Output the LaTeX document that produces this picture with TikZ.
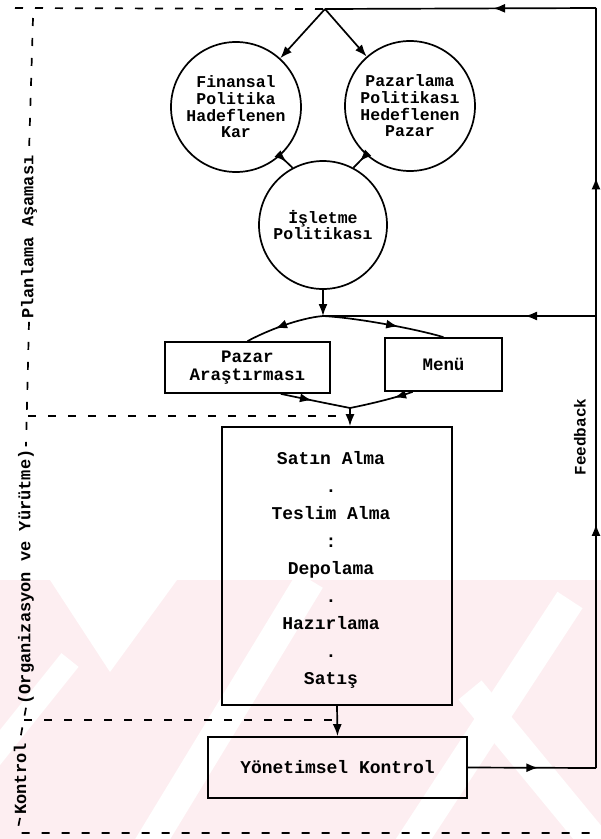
\documentclass[tikz,border=0pt]{standalone}
\usepackage{fontspec}
\setmonofont{Liberation Mono}
\usetikzlibrary{arrows.meta,decorations.markings,calc}

\definecolor{wm}{RGB}{253,238,241}

\newcommand\bubblefont{\ttfamily\bfseries\fontsize{16.5}{16.7}\selectfont}
\newcommand\boxfont{\ttfamily\bfseries\fontsize{17.5}{18}\selectfont}
\newcommand\stepfont{\ttfamily\bfseries\fontsize{18}{27.5}\selectfont}
\newcommand\phasefont{\ttfamily\bfseries\fontsize{17}{18}\selectfont}

\tikzset{
  ink/.style={line width=1.7pt, draw=black},
  frame/.style={line width=1.7pt, draw=black, dash pattern=on 8pt off 12pt},
  bubble/.style={ink, circle, minimum size=130pt, inner sep=0pt, align=center, font=\bubblefont},
  panel/.style={ink, rectangle, inner sep=0pt, align=center, font=\boxfont},
  tip/.style={-{Latex[length=12pt,width=9pt]}},
  midtip/.style={postaction={decorate}, decoration={markings,
      mark=at position #1 with {\arrow{Latex[length=12pt,width=9pt]}}}},
  phase/.style={rotate=90, font=\phasefont, inner sep=3pt},
}

\begin{document}
\begin{tikzpicture}[x=1pt,y=-1pt]
\useasboundingbox (0,0) rectangle (601,839);
\fill[white] (0,0) rectangle (601,839);

% faint striped band along the lower part of the sheet
\begin{scope}
  \clip (0,580) rectangle (601,839);
  \fill[wm] (0,580) rectangle (601,839);
  \fill[white] (50,580) -- (177,580) -- (110,672) -- cycle;
  \draw[white, line width=30pt] (140,860) -- (310,580);
  \draw[white, line width=30pt] (400,860) -- (570,600);
  \draw[white, line width=30pt] (470,690) -- (610,860);
  \draw[white, line width=22pt] (-10,760) -- (70,660);
\end{scope}

% policy bubbles
\node[bubble] (fin) at (236,107) {Finansal\\Politika\\Hadeflenen\\Kar};
\node[bubble] (paz) at (410,106) {Pazarlama\\Politikası\\Hedeflenen\\Pazar};
\node[bubble, minimum size=128pt] (isl) at (323,225) {İşletme\\Politikası};

% boxes
\node[panel, minimum width=165pt, minimum height=51pt] (pzr) at (247.5,367.5) {Pazar\\Araştırması};
\node[panel, minimum width=117pt, minimum height=53pt] (mnu) at (443.5,364.5) {Menü};
\node[panel, minimum width=230pt, minimum height=278pt] (ops) at (337,566) {};
\node[font=\stepfont, align=center] (steps) at (331,570)
  {Satın Alma\\.\\Teslim Alma\\:\\Depolama\\.\\Hazırlama\\.\\Satış};
\node[panel, font=\stepfont, minimum width=259pt, minimum height=61pt] (yk) at (337.5,767.5) {Yönetimsel Kontrol};

% junctions and corners
\coordinate (j0) at (325,9);
\coordinate (j1) at (323,316);
\coordinate (j2) at (350,408);
\coordinate (fbR) at (596,768);
\coordinate (fbM) at (596,316);
\coordinate (fbT) at (596,8);
\coordinate (tl) at (15,8);
\coordinate (lt) at (33,18);
\coordinate (lb) at (17,833);
\coordinate (br) at (601,833);
\coordinate (m1) at (28,416);
\coordinate (m2) at (24,720);

% phase labels
\node[phase] (plan) at (29,237) {Planlama Aşaması};
\node[phase] (org) at (26,577) {(Organizasyon ve Yürütme)};
\node[phase] (ctl) at (20,779) {Kontrol};
\node[phase, font=\ttfamily\bfseries\fontsize{16}{17}\selectfont] (fb) at (580,437) {Feedback};

% phase boundaries
\draw[frame] (tl) -- (j0);
\draw[frame] (lt) -- (plan.east);
\draw[frame] (plan.west) -- (org.east);
\draw[frame] (org.west) -- (ctl.east);
\draw[frame] (ctl.west) -- (lb) -- (br);
\draw[frame] (m1) -- (m1 -| j2);
\draw[frame] (m2) -- (m2 -| ops.south);

% planning flow
\draw[ink, tip] (j0) -- (fin);
\draw[ink, tip] (j0) -- (paz);
\draw[ink, midtip=0.5] (fin.-48) -- (isl.118);
\draw[ink, midtip=0.5] (paz.-132) -- (isl.62);
\draw[ink, tip] (isl.south) -- (j1);
\draw[ink, midtip=0.62] (j1) .. controls (300,318) and (268,330) .. (pzr.north);
\draw[ink, midtip=0.62] (j1) .. controls (360,318) and (420,330) .. (mnu.north);
\draw[ink, midtip=0.45] ($(pzr.south west)!0.7!(pzr.south east)$) .. controls (300,398) and (330,404) .. (j2);
\draw[ink, midtip=0.3] ($(mnu.south west)!0.24!(mnu.south east)$) .. controls (395,398) and (370,404) .. (j2);
\draw[ink, tip] (j2) -- (j2 |- ops.north);
\draw[ink, tip] (ops.south) -- (yk.north);

% feedback loop
\draw[ink, midtip=0.55] (yk.east) -- (fbR);
\draw[ink, midtip=0.54] (fbR) -- (fbM);
\draw[ink, midtip=0.45] (fbM) -- (fbT);
\draw[ink, midtip=0.38] (fbT) -- (j0);
\draw[ink, midtip=0.26] (fbM) -- (j1);
\end{tikzpicture}
\end{document}
